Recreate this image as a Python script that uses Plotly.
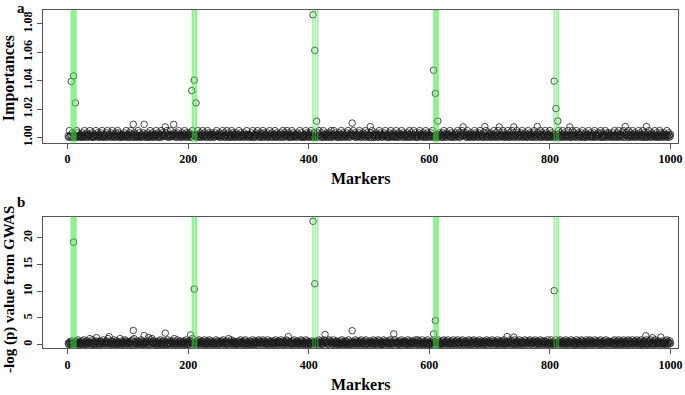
import plotly.graph_objects as go

# ---------------- data (read / estimated from the reference) ----------------
# Baseline importances, one code per marker (1..1000); code -> level in IMP_LEVELS
IMP_CODES = """
3172452613 4251736241 5326142735 1624357142 6231547326 4153627412 3546172435 2617342516 4372615243 1536247315
2461735241 6352417263 4152637241 5362147352 6142537416 2531746253 4162735142 7352416253 1647325146 2357416235
4615237451 3264175326 1547236415 2736415263 5142637524 3615247361 2547316425 1736254163 4257136245 3165427351
5243617425 1364752316 4527163452 6134725361 2457316254 4163527146 3527461352 1746235142 6352741632 4152736415
2637415263 4152637451 3627145236 5143627154 2736451326 4157236514 3264715326 5137426153 2467315246 3517462351
4261735142 6352147365 2143657241 3526174352 6142735164 2537416352 4162537146 3257416325 1467352416 5237146253
3164725316 4257136452 1637245163 5427316254 3165427361 2547316452 6173524163 4251736425 1637245316 2547136254
6132547316 2457163425 3716245137 4261537426 1354726153 4627153462 3157426351 2647315246 3517426153 4726135247
1362547136 2547316254 7136245317 4265137426 3517246351 4627315264 1357426315 2467135246 3517624153 2746153624
5136247315 2647135426 3715246317 5246137524 6135247361 5247316524 1637524163 5247316425 1736245163 4257316425
"""
IMP_LEVELS = [0.9999, 1.0001, 1.0006, 1.0011, 1.0016, 1.0022, 1.0033, 1.0049, 1.0056, 1.0062]

# Baseline -log(p), one code per marker; code -> level in GWAS_LEVELS
GWAS_CODES = """
2041305127 3150426130 4215036142 0513247031 6240135204 3125041362 1403527140 2531406213 5024137025 1340625143
0324150627 4130251403 2641035124 3052140637 1425031402 5136024150 3241063125 0431527041 2630415203 4152036140
3150427036 1240531624 0351426031 5240613502 4130261453 0214531620 3451027134 6201534120 1425036241 3051624031
1530246103 5241036524 1306425130 2614035241 0531624035 1426301542 3061524130 4152063142 5031426051 2340615302
4210536241 0351426035 2140631524 3016524130 6243150421 3052614031 5241063024 1530426135 0241536024 3150624103
2531406215 3041625130 4206135241 0351624031 5264130425 1036241530 4216035124 0531426301 6250413620 1435026130
0413526041 3250614302 1536042513 6024135026 1340526314 0253614025 3140625304 1526034152 0461325041 2530641352
3016425130 4261035241 5036124053 1426305124 6031524061 3250413625 0143526104 2531640352 1406325140 5234160231
1624035126 0341526034 2153064215 3042613520 4136025314 0625134026 1354062513 4026135240 3516024135 2061435204
4230516240 3516024153 0624135026 1453026143 5026314502 6130425136 0241536024 1350624135 2046135203 1526043152
"""
GWAS_LEVELS = [0.03, 0.13, 0.25, 0.38, 0.52, 0.68, 0.88, 1.12, 1.3, 1.45]

# Markers standing out from the baseline (marker index -> value)
IMP_PEAKS = {
    6: 1.0395, 10: 1.0434, 13: 1.0244,
    206: 1.0330, 210: 1.0404, 213: 1.0244,
    407: 1.0864, 410: 1.0613, 413: 1.0116,
    607: 1.0474, 610: 1.0311, 614: 1.0116,
    807: 1.0397, 810: 1.0204, 813: 1.0116,
    109: 1.0093, 127: 1.0093, 162: 1.0075, 176: 1.0093,
    472: 1.0102, 502: 1.0077, 656: 1.0075, 692: 1.0078,
    716: 1.0075, 740: 1.0075, 779: 1.0078, 833: 1.0075,
    925: 1.0078, 960: 1.0078,
}
GWAS_PEAKS = {
    10: 19.2, 210: 10.4, 407: 23.1, 410: 11.4, 607: 2.0, 610: 4.5, 807: 10.1,
    48: 1.3, 69: 1.5, 109: 2.65, 127: 1.7, 134: 1.3, 162: 2.15, 204: 1.8,
    366: 1.5, 427: 1.9, 472: 2.6, 541: 2.0, 729: 1.5, 740: 1.4,
    959: 1.65, 970: 1.3, 984: 1.4,
}

# Causal marker positions (green vertical lines)
CAUSAL_LINES = [
    [6, 8, 10, 12, 14],
    [207, 209, 212, 214],
    [407, 411, 415],
    [607, 609, 611, 613, 615],
    [807, 811, 814],
]

X_TICKS = [0, 200, 400, 600, 800, 1000]
IMP_TICKS = [1.00, 1.02, 1.04, 1.06, 1.08]
GWAS_TICKS = [0, 5, 10, 15, 20]

# ---------------- build series ----------------
importance = [IMP_LEVELS[int(c)] for c in IMP_CODES if c.isdigit()]
gwas = [GWAS_LEVELS[int(c)] for c in GWAS_CODES if c.isdigit()]
for k, v in IMP_PEAKS.items():
    importance[k - 1] = v
for k, v in GWAS_PEAKS.items():
    gwas[k - 1] = v
markers_a = list(range(1, len(importance) + 1))
markers_b = list(range(1, len(gwas) + 1))

W, H = 685, 395
FONT = "Liberation Serif"

fig = go.Figure()
mk = dict(symbol="circle-open", size=6.5, color="#1a1a1a", line=dict(width=0.8, color="#1a1a1a"))
fig.add_trace(go.Scatter(x=markers_a, y=importance, mode="markers", marker=mk,
                         xaxis="x", yaxis="y", showlegend=False, hoverinfo="skip"))
fig.add_trace(go.Scatter(x=markers_b, y=gwas, mode="markers", marker=mk,
                         xaxis="x2", yaxis="y2", showlegend=False, hoverinfo="skip"))

shapes = []
for group in CAUSAL_LINES:
    for pos in group:
        for xr, yr in (("x", "y domain"), ("x2", "y2 domain")):
            shapes.append(dict(type="line", xref=xr, yref=yr, x0=pos, x1=pos, y0=0, y1=1,
                               line=dict(color="rgba(60,230,60,0.5)", width=1.5), layer="above"))

tickfont = dict(family=FONT, size=12, color="black", weight="bold")
axis_common = dict(showgrid=False, zeroline=False, showline=True, mirror=True,
                   linecolor="#555", linewidth=1, ticks="outside", ticklen=5,
                   tickcolor="#555", tickfont=tickfont, ticklabeloverflow="allow")

L, R = 43.3 / W, 682.3 / W
fig.update_layout(
    width=W, height=H, margin=dict(l=0, r=0, t=0, b=0),
    paper_bgcolor="white", plot_bgcolor="white",
    xaxis=dict(domain=[L, R], range=[-40.7, 1012.9], tickvals=X_TICKS, anchor="y", **axis_common),
    yaxis=dict(domain=[1 - 144 / H, 1 - 10 / H], range=[0.9965, 1.0898], tickvals=IMP_TICKS,
               ticktext=[f"{t:.2f}" for t in IMP_TICKS], tickangle=-90, anchor="x", **axis_common),
    xaxis2=dict(domain=[L, R], range=[-40.7, 1012.9], tickvals=X_TICKS, anchor="y2", **axis_common),
    yaxis2=dict(domain=[1 - 352 / H, 1 - 219 / H], range=[-0.72, 23.95], tickvals=GWAS_TICKS,
                tickangle=-90, anchor="x2", **axis_common),
    shapes=shapes,
)

def ann(text, px, py, size, angle=0):
    return dict(text=text, x=px / W, y=1 - py / H, xref="paper", yref="paper",
                showarrow=False, textangle=angle, xanchor="center", yanchor="middle",
                font=dict(family=FONT, size=size, color="black", weight="bold"))

fig.update_layout(annotations=[
    ann("a", 21, 8, 15),
    ann("b", 21, 204, 15),
    ann("Markers", 363, 180, 16),
    ann("Markers", 363, 388, 16),
    ann("Importances", 9, 79, 16, -90),
    ann("-log (p) value from GWAS", 9, 292, 15, -90),
])

fig.write_html("out.html", config={"displayModeBar": False},
               post_script="document.body.style.margin='0';document.body.style.overflow='hidden';")
